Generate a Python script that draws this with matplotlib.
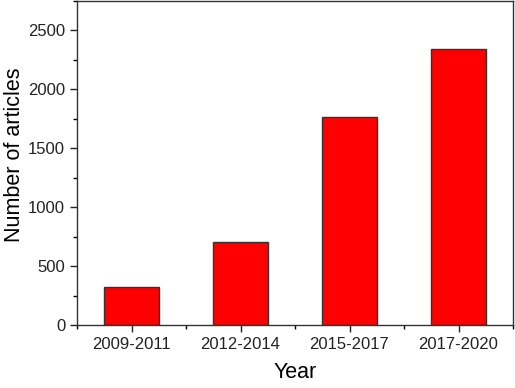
import matplotlib
matplotlib.use("Agg")
import matplotlib.pyplot as plt
from matplotlib.ticker import MultipleLocator, FixedLocator

categories = ["2009-2011", "2012-2014", "2015-2017", "2017-2020"]
values = [322, 703, 1763, 2339]

plt.rcParams['font.family'] = ['Liberation Sans', 'DejaVu Sans']

fig = plt.figure(figsize=(5.15, 3.88), dpi=100)
ax = fig.add_axes([77/515, 63/388, 436/515, 324/388])
x = list(range(len(categories)))
ax.bar(x, values, width=0.5, color='#ff0000', edgecolor='#333333', linewidth=1.0)
ax.set_xlim(-0.5, 3.5)
ax.set_ylim(0, 2750)
ax.set_xticks(x)
ax.set_xticklabels(categories)
ax.xaxis.set_minor_locator(FixedLocator([-0.5, 0.5, 1.5, 2.5, 3.5]))
ax.yaxis.set_major_locator(MultipleLocator(500))
ax.yaxis.set_minor_locator(MultipleLocator(250))
ax.tick_params(axis='both', which='major', direction='out', length=5, width=1, labelsize=12, colors='#222222')
ax.tick_params(axis='both', which='minor', direction='out', length=3, width=1)
ax.set_xlabel("Year", fontsize=15.5, labelpad=7)
ax.set_ylabel("Number of articles", fontsize=15.5, labelpad=4)
ax.yaxis.set_label_coords(-0.12, 0.525)
for s in ax.spines.values():
    s.set_color('#333333')
    s.set_linewidth(1.0)
fig.savefig("out.png", dpi=100)
